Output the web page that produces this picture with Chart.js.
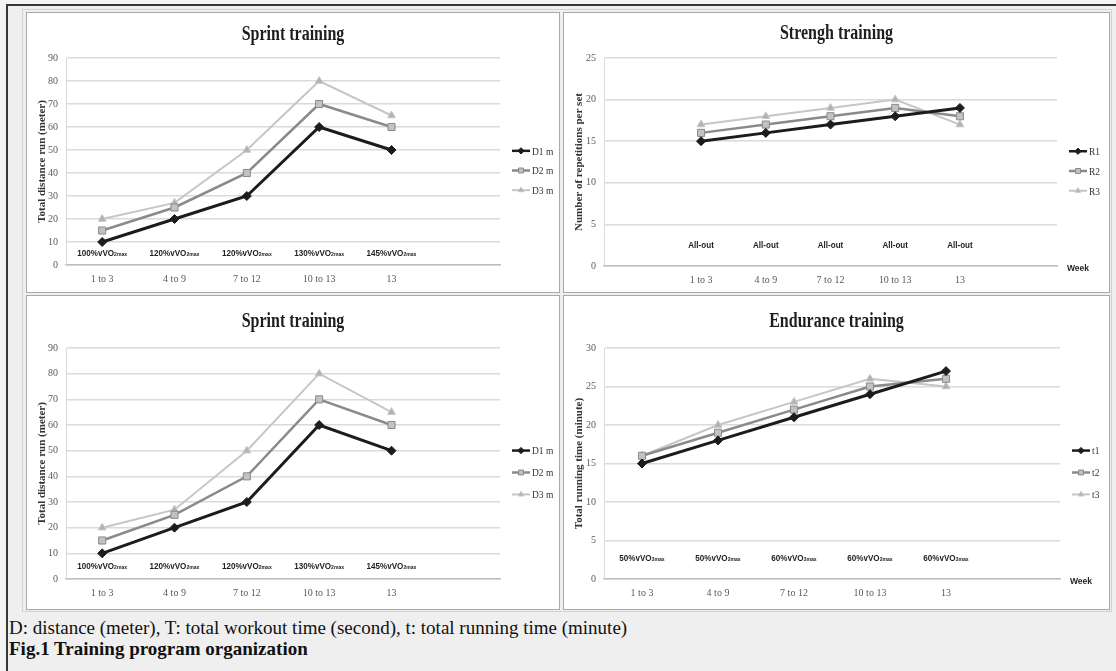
<!DOCTYPE html>
<html>
<head>
<meta charset="utf-8">
<script src="https://cdn.jsdelivr.net/npm/chart.js@4.4.0/dist/chart.umd.min.js"></script>
<style>
  body { margin: 0; width: 1116px; height: 671px; background: #f4f4f4; overflow: hidden; position: relative; }
  #frame { position: absolute; left: 6px; top: 4px; right: 0; bottom: 0; border-top: 2px solid #383838; border-left: 2px solid #383838; background: #efefef; }
  #inner { position: absolute; left: 22px; top: 9px; width: 1090px; height: 603px; border: 1px solid #d2d2d2; box-sizing: border-box; }
  .panel { position: absolute; background: #fff; border: 1px solid #a9a9a9; box-sizing: border-box; }
  .panel canvas { display: block; }
  #note { position: absolute; left: 9px; top: 617px; font-family: "Liberation Serif", "Times New Roman", serif; font-size: 19px; line-height: 21px; color: #111; white-space: nowrap; }
  #note b { font-weight: bold; }
</style>
</head>
<body>
<div id="frame"></div>
<div id="inner"></div>
<div class="panel" style="left:26px;top:12px;width:534px;height:281px"><canvas id="sprintTop" width="532" height="279"></canvas></div>
<div class="panel" style="left:563px;top:12px;width:547px;height:281px"><canvas id="strength" width="545" height="279"></canvas></div>
<div class="panel" style="left:26px;top:295px;width:534px;height:315px"><canvas id="sprintBottom" width="532" height="313"></canvas></div>
<div class="panel" style="left:563px;top:295px;width:547px;height:315px"><canvas id="endurance" width="545" height="313"></canvas></div>
<div id="note">D: distance (meter), T: total workout time (second), t: total running time (minute)<br><b>Fig.1 Training program organization</b></div>

<script>
/* ============================
   DATA
============================ */

// Sprint training (same program drawn twice)
const sprintWeeks = ["1 to 3", "4 to 9", "7 to 12", "10 to 13", "13"];
const sprintIntensity = ["100%vVO2max", "120%vVO2max", "120%vVO2max", "130%vVO2max", "145%vVO2max"];
const sprintSeries = ["D1 m", "D2 m", "D3 m"];
const sprintD1 = [10, 20, 30, 60, 50];
const sprintD2 = [15, 25, 40, 70, 60];
const sprintD3 = [20, 27, 50, 80, 65];
const sprintTicks = [0, 10, 20, 30, 40, 50, 60, 70, 80, 90];

// Strength training
const strengthWeeks = ["1 to 3", "4 to 9", "7 to 12", "10 to 13", "13"];
const strengthLoad = ["All-out", "All-out", "All-out", "All-out", "All-out"];
const strengthSeries = ["R1", "R2", "R3"];
const strengthR1 = [15, 16, 17, 18, 19];
const strengthR2 = [16, 17, 18, 19, 18];
const strengthR3 = [17, 18, 19, 20, 17];
const strengthTicks = [0, 5, 10, 15, 20, 25];

// Endurance training
const enduranceWeeks = ["1 to 3", "4 to 9", "7 to 12", "10 to 13", "13"];
const enduranceIntensity = ["50%vVO2max", "50%vVO2max", "60%vVO2max", "60%vVO2max", "60%vVO2max"];
const enduranceSeries = ["t1", "t2", "t3"];
const enduranceT1 = [15, 18, 21, 24, 27];
const enduranceT2 = [16, 19, 22, 25, 26];
const enduranceT3 = [16, 20, 23, 26, 25];
const enduranceTicks = [0, 5, 10, 15, 20, 25, 30];

/* ============================
   STYLE
============================ */

const SERIF = "'Liberation Serif', 'Times New Roman', serif";
const SANS = "'Liberation Sans', Arial, sans-serif";
const GRID = "#dadada";
const TICK = "#5a5a5a";

// one entry per series: dark diamond, grey square, light triangle
const seriesLook = [
  { line: "#1c1c1c", fill: "#1c1c1c", width: 3, point: "rectRot", radius: 4.5 },
  { line: "#8a8a8a", fill: "#c2c2c2", width: 2.5, point: "rect", radius: 5 },
  { line: "#c6c6c6", fill: "#b2b2b2", width: 2, point: "triangle", radius: 4.5 },
];

/* ============================
   HELPERS
============================ */

// draw text squeezed horizontally (the figure uses narrow fonts)
function squeeze(ctx, text, x, y, font, sx, align) {
  ctx.save();
  ctx.font = font;
  ctx.translate(x, y);
  ctx.scale(sx, 1);
  ctx.textAlign = align || "center";
  ctx.fillText(text, 0, 0);
  ctx.restore();
}

// "100%vVO2max" -> "100%vVO" + small "2max"
function drawIntensity(ctx, text, cx, y) {
  const m = text.match(/^(.*vVO)(2max)$/);
  const sx = 0.85;
  const big = "bold 9.5px " + SANS;
  const small = "bold 6px " + SANS;
  if (!m) {
    squeeze(ctx, text, cx, y, big, sx, "center");
    return;
  }
  ctx.save();
  ctx.font = big;
  const w1 = ctx.measureText(m[1]).width * sx;
  ctx.font = small;
  const w2 = ctx.measureText(m[2]).width * sx;
  ctx.restore();
  const x0 = cx - (w1 + w2) / 2;
  squeeze(ctx, m[1], x0, y, big, sx, "left");
  squeeze(ctx, m[2], x0 + w1, y + 1, small, sx, "left");
}

const decorPlugin = {
  id: "decor",
  afterDraw(chart, args, opts) {
    const ctx = chart.ctx;
    const area = chart.chartArea;
    const xs = chart.scales.x;
    const ys = chart.scales.y;

    ctx.save();
    ctx.textBaseline = "alphabetic";

    // title
    ctx.fillStyle = "#1e1e1e";
    squeeze(ctx, opts.title, chart.width / 2, opts.titleY, "bold 20px " + SERIF, 0.8, "center");

    // intensity notes above the axis
    ctx.fillStyle = "#1e1e1e";
    ctx.textBaseline = "middle";
    opts.notes.forEach((txt, i) => {
      const x = xs.getPixelForValue(i + opts.first);
      const y = ys.getPixelForValue(opts.noteLevel);
      drawIntensity(ctx, txt, x, y);
    });

    // "Week" at the end of the x axis
    if (opts.axisEnd) {
      ctx.fillStyle = "#262626";
      squeeze(ctx, opts.axisEnd, area.right + 21, area.bottom + 3, "bold 9px " + SANS, 0.95, "center");
    }

    // legend on the right: line + marker + name
    const sets = chart.data.datasets;
    const gap = (area.bottom - area.top) * 0.095;
    const cy = (area.top + area.bottom) / 2 + 9;
    const x0 = area.right + 12;
    sets.forEach((ds, i) => {
      const y = cy + (i - (sets.length - 1) / 2) * gap;
      ctx.strokeStyle = ds.borderColor;
      ctx.lineWidth = Math.min(ds.borderWidth, 2.5);
      ctx.beginPath();
      ctx.moveTo(x0, y);
      ctx.lineTo(x0 + 18, y);
      ctx.stroke();
      if (Chart.helpers && Chart.helpers.drawPoint) {
        ctx.fillStyle = ds.pointBackgroundColor;
        ctx.strokeStyle = ds.pointBorderColor;
        ctx.lineWidth = 1;
        Chart.helpers.drawPoint(ctx, { pointStyle: ds.pointStyle, radius: ds.pointRadius * 0.7, rotation: 0, borderWidth: 1 }, x0 + 9, y);
      }
      ctx.fillStyle = "#333";
      squeeze(ctx, ds.label, x0 + 20, y + 1, "10.5px " + SERIF, 0.9, "left");
    });

    ctx.restore();
  },
};

function buildDatasets(names, values, padded) {
  return names.map((name, i) => {
    const look = seriesLook[i];
    return {
      label: name,
      data: padded ? [null, ...values[i], null] : values[i],
      borderColor: look.line,
      backgroundColor: look.fill,
      borderWidth: look.width,
      pointStyle: look.point,
      pointRadius: look.radius,
      pointBackgroundColor: look.fill,
      pointBorderColor: look.line,
      pointBorderWidth: 1,
      tension: 0,
    };
  });
}

function makeChart(id, cfg) {
  const labels = cfg.padded ? ["", ...cfg.weeks, ""] : [...cfg.weeks, ""];
  const ticks = cfg.ticks;
  return new Chart(document.getElementById(id), {
    type: "line",
    data: { labels: labels, datasets: buildDatasets(cfg.names, cfg.values, cfg.padded) },
    options: {
      responsive: false,
      animation: false,
      devicePixelRatio: 1,
      layout: { padding: { left: 0, top: cfg.box.top, right: cfg.box.right, bottom: 0 } },
      plugins: {
        legend: { display: false },
        tooltip: { enabled: false },
        decor: {
          title: cfg.title,
          titleY: cfg.box.titleY,
          notes: cfg.notes,
          noteLevel: cfg.noteLevel,
          first: cfg.padded ? 1 : 0,
          axisEnd: cfg.axisEnd || "",
        },
      },
      scales: {
        x: {
          offset: true,
          grid: { display: false, drawTicks: false },
          border: { display: true, color: "#bdbdbd", width: 1.5 },
          ticks: { color: TICK, font: { family: SERIF, size: 10 }, padding: 8, maxRotation: 0, autoSkip: false },
          afterFit: (s) => { s.height = cfg.box.bottom; },
        },
        y: {
          min: ticks[0],
          max: ticks[ticks.length - 1],
          ticks: { stepSize: ticks[1] - ticks[0], color: TICK, font: { family: SERIF, size: 10 }, padding: 8 },
          grid: { color: GRID, lineWidth: 1.5, drawTicks: false },
          border: { display: true, color: GRID, width: 1 },
          title: { display: true, text: cfg.yTitle, color: "#333", font: { family: SERIF, size: 11, weight: "bold" }, padding: { top: 9, bottom: 0 } },
          afterFit: (s) => { s.width = cfg.box.left; },
        },
      },
    },
    plugins: [decorPlugin],
  });
}

/* ============================
   CHARTS
============================ */

makeChart("sprintTop", {
  title: "Sprint training",
  yTitle: "Total distance run (meter)",
  weeks: sprintWeeks,
  names: sprintSeries,
  values: [sprintD1, sprintD2, sprintD3],
  ticks: sprintTicks,
  notes: sprintIntensity,
  noteLevel: 5,
  padded: false,
  box: { left: 39, right: 59, top: 45, bottom: 27, titleY: 27 },
});

makeChart("strength", {
  title: "Strengh training",
  yTitle: "Number of repetitions per set",
  weeks: strengthWeeks,
  names: strengthSeries,
  values: [strengthR1, strengthR2, strengthR3],
  ticks: strengthTicks,
  notes: strengthLoad,
  noteLevel: 2.5,
  padded: true,
  axisEnd: "Week",
  box: { left: 40, right: 52, top: 45, bottom: 26, titleY: 26 },
});

makeChart("sprintBottom", {
  title: "Sprint training",
  yTitle: "Total distance run (meter)",
  weeks: sprintWeeks,
  names: sprintSeries,
  values: [sprintD1, sprintD2, sprintD3],
  ticks: sprintTicks,
  notes: sprintIntensity,
  noteLevel: 5,
  padded: false,
  box: { left: 39, right: 59, top: 52, bottom: 30, titleY: 31 },
});

makeChart("endurance", {
  title: "Endurance training",
  yTitle: "Total running time (minute)",
  weeks: enduranceWeeks,
  names: enduranceSeries,
  values: [enduranceT1, enduranceT2, enduranceT3],
  ticks: enduranceTicks,
  notes: enduranceIntensity,
  noteLevel: 2.7,
  padded: false,
  axisEnd: "Week",
  box: { left: 40, right: 49, top: 52, bottom: 30, titleY: 31 },
});
</script>
</body>
</html>
